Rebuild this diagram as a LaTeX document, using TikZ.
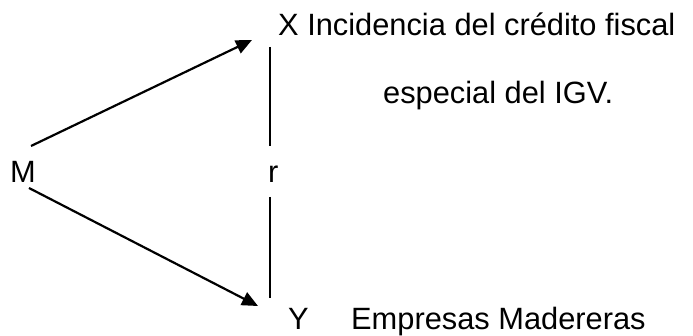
\documentclass[tikz,border=0pt]{standalone}
\usepackage{fontspec}
\setmainfont{Liberation Sans}
\usetikzlibrary{arrows.meta}
\begin{document}
\begin{tikzpicture}[x=1pt,y=-1pt,
  lbl/.style={inner sep=0pt, anchor=base west, font=\fontsize{30.8}{36}\selectfont},
  arr/.style={line width=2.2pt, -{Triangle[length=16pt,width=14pt]}},
  rline/.style={line width=1.6pt}]
\useasboundingbox (0,0) rectangle (693,336);
\node[lbl] (m) at (10,183) {M};
\node[lbl] (x) at (278,36) {X Incidencia del crédito fiscal};
\node[lbl] (x2) at (383,104) {especial del IGV.};
\node[lbl] (r) at (268,183) {r};
\node[lbl] (y) at (288,330) {Y};
\node[lbl] (y2) at (351,330) {Empresas Madereras};
\coordinate (ma) at (31,146);
\coordinate (mb) at (29,188);
\coordinate (xt) at (252,40);
\coordinate (yt) at (258,306);
\coordinate (v1) at (270,47);
\coordinate (v2) at (270,146);
\coordinate (v3) at (270,197);
\coordinate (v4) at (270,298);
\draw[arr] (ma) -- (xt);
\draw[arr] (mb) -- (yt);
\draw[rline] (v1) -- (v2);
\draw[rline] (v3) -- (v4);
\end{tikzpicture}
\end{document}
